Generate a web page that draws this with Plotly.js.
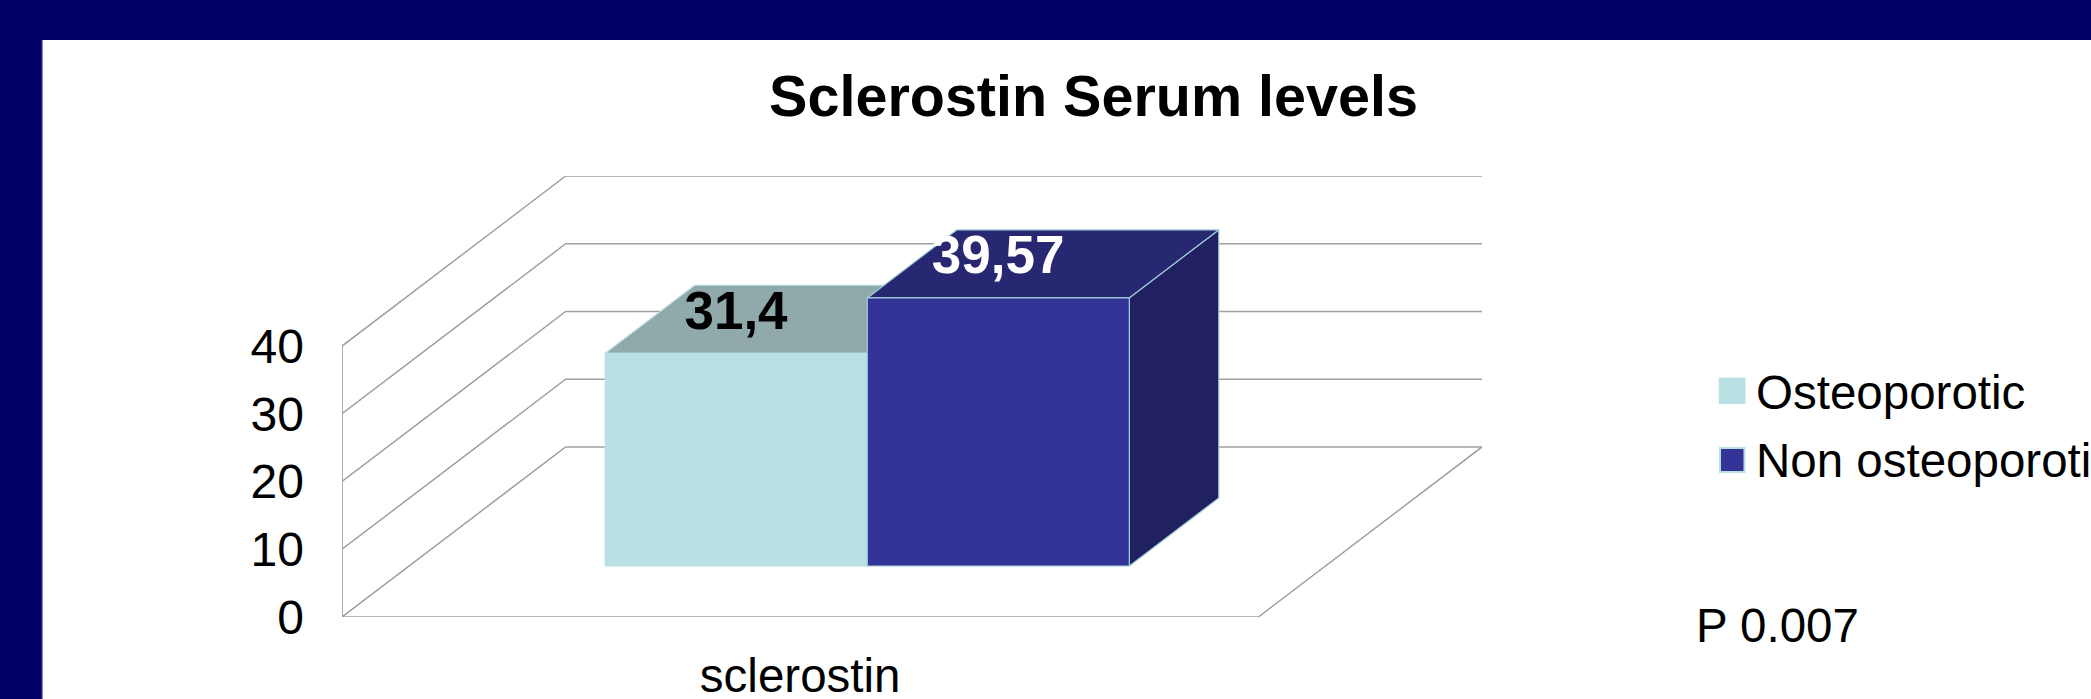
<!DOCTYPE html>
<html>
<head>
<meta charset="utf-8">
<script src="https://cdn.plot.ly/plotly-3.0.1.min.js"></script>
<style>html,body{margin:0;padding:0;background:#000066;overflow:hidden}</style>
</head>
<body>
<div id="chart" style="width:2091px;height:699px"></div>
<script>
// ---- data ----
const categories = ['sclerostin'];
const seriesNames = ['Osteoporotic', 'Non osteoporotic'];
const osteoporotic = [31.4];
const nonOsteoporotic = [39.57];
const yTicks = [0, 10, 20, 30, 40];
const pNote = 'P 0.007';

// ---- oblique projection parameters (axis units) ----
const W = 2091, H = 699;
const plotL = 342, plotR = 1481.6, plotT = 176, plotB = 617;
const depthX = 0.2441, depthY = 25.1;     // shift of the full depth, in x and value units
const depthNear = 0.3, depthFar = 0.7;    // bar depth slice on the floor
const barEdges = [0.214, 0.5, 0.786];
const yMax = yTicks[yTicks.length - 1];

const FONT = '"Liberation Sans", Arial, sans-serif';
const GRID = '#a0a0a0';

const px = (x, v, d) => x + d * depthX;
const py = (x, v, d) => v + d * depthY;

function path(points, extra) {
  return Object.assign({
    type: 'scatter', mode: 'lines', hoverinfo: 'skip', showlegend: false,
    x: points.map(p => px(p[0], p[1], p[2])),
    y: points.map(p => py(p[0], p[1], p[2]))
  }, extra);
}
function line(points, color, width) {
  return path(points, { line: { color: color, width: width } });
}
function face(points, fill, edge) {
  return path(points.concat([points[0]]), {
    fill: 'toself', fillcolor: fill, line: { color: edge, width: 1.2 }
  });
}
function box(x0, x1, v, colors) {
  const n = depthNear, f = depthFar;
  return [
    face([[x0, v, n], [x1, v, n], [x1, v, f], [x0, v, f]], colors.top, colors.edge),
    face([[x1, 0, n], [x1, v, n], [x1, v, f], [x1, 0, f]], colors.side, colors.edge),
    face([[x0, 0, n], [x1, 0, n], [x1, v, n], [x0, v, n]], colors.front, colors.edge)
  ];
}

const traces = [];
// wall and floor lines
yTicks.forEach(t => traces.push(line([[0, t, 0], [0, t, 1], [1, t, 1]], GRID, 1.5)));
traces.push(line([[0, 0, 0], [0, yMax, 0]], GRID, 1.7));
traces.push(line([[0, 0, 0], [1, 0, 0], [1, 0, 1]], GRID, 1.5));

// bars
traces.push(...box(barEdges[0], barEdges[1], osteoporotic[0],
  { front: '#b9e0e3', top: '#90aaac', side: '#90aaac', edge: '#b9e0e3' }));
traces.push(...box(barEdges[1], barEdges[2], nonOsteoporotic[0],
  { front: '#343397', top: '#282772', side: '#212060', edge: '#a2cdd8' }));

// data labels
const labelDX = 0.073, labelDV = 13.1;
const mids = [(barEdges[0] + barEdges[1]) / 2, (barEdges[1] + barEdges[2]) / 2];
[[osteoporotic[0], '#000000', mids[0]], [nonOsteoporotic[0], '#ffffff', mids[1]]].forEach(r => {
  traces.push({
    type: 'scatter', mode: 'text', hoverinfo: 'skip', showlegend: false, cliponaxis: false,
    x: [r[2] + labelDX], y: [r[0] + labelDV],
    text: [String(r[0]).replace('.', ',')],
    textposition: 'middle center',
    textfont: { family: FONT, size: 53, color: r[1], weight: 700 }
  });
});

// paper fractions refer to the plot area
const pxX = v => (v - plotL) / (plotR - plotL);
const pxY = v => (plotB - v) / (plotB - plotT);
const rect = (x0, y0, x1, y1, fill, edge, w) => ({
  type: 'rect', xref: 'paper', yref: 'paper', layer: 'below',
  x0: pxX(x0), x1: pxX(x1), y0: pxY(y1), y1: pxY(y0),
  fillcolor: fill, line: { color: edge || fill, width: w || 0 }
});
const note = (text, x, y) => ({
  text: text, xref: 'paper', yref: 'paper', x: pxX(x), y: pxY(y),
  xanchor: 'left', yanchor: 'middle', showarrow: false,
  font: { family: FONT, size: 47.5, color: '#000000' }
});

const layout = {
  width: W, height: H,
  paper_bgcolor: '#000066', plot_bgcolor: 'rgba(0,0,0,0)',
  showlegend: false,
  margin: { l: plotL, r: W - plotR, t: plotT, b: H - plotB, pad: 0, autoexpand: false },
  title: {
    text: '<b>Sclerostin Serum levels</b>',
    font: { family: FONT, size: 57.5, color: '#000000' },
    xref: 'container', yref: 'container', x: 1093.5 / W, y: 1 - 96 / H,
    xanchor: 'center', yanchor: 'middle'
  },
  xaxis: {
    range: [0, 1 + depthX], tickmode: 'array', tickvals: [0.5], ticktext: categories,
    showgrid: false, zeroline: false, showline: false, ticks: '',
    ticklabelstandoff: 26,
    tickfont: { family: FONT, size: 47.5, color: '#000000' }
  },
  yaxis: {
    range: [0, yMax + depthY], tickmode: 'array', tickvals: yTicks,
    showgrid: false, zeroline: false, showline: false, ticks: '',
    ticklabelstandoff: 37,
    tickfont: { family: FONT, size: 48, color: '#000000' }
  },
  shapes: [
    rect(42, 40, W + 5, H + 5, '#ffffff'),
    rect(42, 40, 43, H + 5, '#7b7bb5'),
    rect(1718.3, 377.7, 1745, 404, '#b9e0e3'),
    rect(1719.5, 448, 1744, 472, '#343397', '#b9e0e3', 2)
  ],
  annotations: [
    note(seriesNames[0], 1754, 392),
    note(seriesNames[1], 1754, 460),
    note(pNote, 1693.5, 625)
  ]
};

Plotly.newPlot('chart', traces, layout, { displayModeBar: false, staticPlot: true });
</script>
</body>
</html>
